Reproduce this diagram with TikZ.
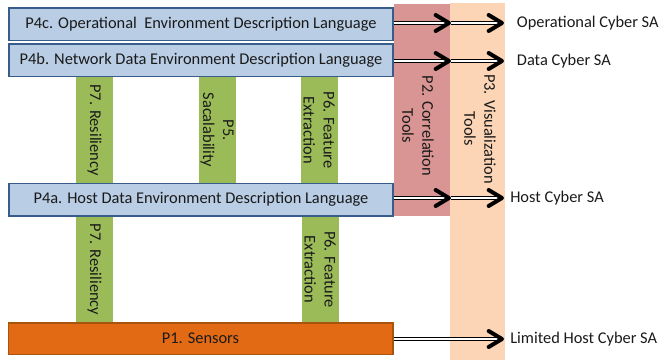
\documentclass[tikz,border=0pt]{standalone}
\usepackage{fontspec}
\setmainfont{Carlito}
\definecolor{boxblue}{HTML}{B9CDE5}
\definecolor{boxedge}{HTML}{385D8A}
\definecolor{bargreen}{HTML}{9BBB59}
\definecolor{colpink}{HTML}{D99594}
\definecolor{colpeach}{HTML}{FBD5B5}
\definecolor{sensorfill}{HTML}{E36A14}
\definecolor{sensoredge}{HTML}{A9540D}
\definecolor{txt}{HTML}{1A1A1A}
\begin{document}
\begin{tikzpicture}[x=0.75pt,y=-0.75pt,
  font=\fontsize{12.3}{15}\selectfont, text=txt,
  layerbox/.style={draw=boxedge, fill=boxblue, line width=1pt, inner sep=0pt,
    minimum width=288pt, minimum height=24.5pt},
  sensorbox/.style={draw=sensoredge, fill=sensorfill, line width=1pt, inner sep=0pt,
    minimum width=288.5pt, minimum height=23.5pt},
  greenbar/.style={fill=bargreen, rotate=-90, inner sep=0pt, align=center,
    minimum height=27.75pt},
  coltext/.style={rotate=-90, align=center, inner sep=0pt},
  shaft/.style={draw=black, double=white, double distance=1.6pt, line width=0.95pt, shorten >=3pt},
  chev/.pic={\draw[line width=3pt, line join=round, line cap=round] (-11.5pt,-6pt) -- (-1.5pt,0pt) -- (-11.5pt,6pt);},
  outlabel/.style={anchor=west, inner sep=0pt}
]
\useasboundingbox (0,0) rectangle (660,360);

% columns
\fill[colpink] (394,4) rectangle (450,216);
\fill[colpeach] (450,3) rectangle (505,360);
\node[coltext] (p2) at (418,126) {P2. Correlation\\Tools};
\node[coltext] (p3) at (480,129) {P3. Visualization\\Tools};

% green bars
\node[greenbar, minimum width=79.5pt] (p7u) at (94.5,130) {P7. Resiliency};
\node[greenbar, minimum width=79.5pt] (p5) at (217,130) {P5.\\Sacalability};
\node[greenbar, minimum width=79.5pt] (p6u) at (319,130) {P6. Feature\\Extraction};
\node[greenbar, minimum width=80.25pt] (p7l) at (94.5,269.5) {P7. Resiliency};
\node[greenbar, minimum width=80.25pt] (p6l) at (320,269.5) {P6. Feature\\Extraction};

% layer boxes
\node[layerbox] (p4c) at (201,24.5) {P4c. Operational\ \ Environment Description Language};
\node[layerbox] (p4b) at (201,60.5) {P4b. Network Data Environment Description Language};
\node[layerbox] (p4a) at (201,199.5) {P4a. Host Data Environment Description Language};
\node[sensorbox] (p1) at (200.5,338.5) {P1. Sensors};

% arrow coordinates
\coordinate (m1) at (451,23);
\coordinate (e1) at (504,23);
\coordinate (m2) at (451,61);
\coordinate (e2) at (504,61);
\coordinate (m3) at (451,198);
\coordinate (e3) at (504,198);
\coordinate (e4) at (504,339);

% arrows
\draw[shaft] (p4c.east |- m1) -- (m1);
\draw[shaft] (m1) -- (e1);
\draw[shaft] (p4b.east |- m2) -- (m2);
\draw[shaft] (m2) -- (e2);
\draw[shaft] (p4a.east |- m3) -- (m3);
\draw[shaft] (m3) -- (e3);
\draw[shaft] (p1.east |- e4) -- (e4);
\pic at (m1) {chev};
\pic at (e1) {chev};
\pic at (m2) {chev};
\pic at (e2) {chev};
\pic at (m3) {chev};
\pic at (e3) {chev};
\pic at (e4) {chev};

% outcome labels
\node[outlabel] (l1) at ([xshift=9.5pt]e1) {Operational Cyber SA};
\node[outlabel] (l2) at ([xshift=9.5pt]e2) {Data Cyber SA};
\node[outlabel] (l3) at ([xshift=4.5pt]e3) {Host Cyber SA};
\node[outlabel] (l4) at ([xshift=4.5pt]e4) {Limited Host Cyber SA};
\end{tikzpicture}
\end{document}
